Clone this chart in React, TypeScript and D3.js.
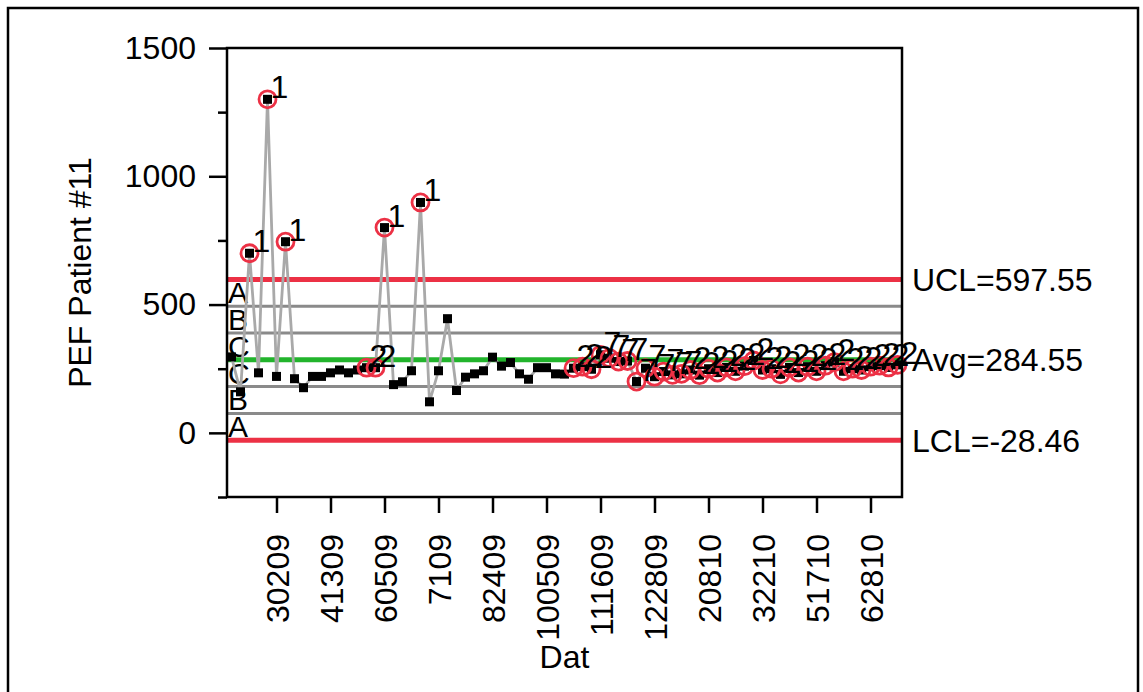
import React, { useEffect, useRef } from 'react';
import * as d3 from 'd3';

// PEF readings, one per visit
const pefValues = [
  296, 160, 700, 234, 1300, 220, 745, 211, 176, 220,
  220, 234, 245, 234, 245, 254, 254, 800, 188, 199,
  242, 898, 121, 242, 445, 165, 217, 230, 242, 295,
  260, 274, 230, 209, 254, 254, 230, 229, 252, 258,
  248, 304, 291, 278, 280, 200, 252, 219, 239, 226,
  230, 245, 225, 250, 235, 255, 240, 260, 282, 245,
  250, 228, 255, 235, 258, 240, 262, 276, 240, 250,
  245, 258, 262, 255, 265,
];

const dateTickIndex = [6, 12, 18, 24, 30, 36, 42, 48, 54, 60, 66, 72];
const dateTickLabels = ['30209', '41309', '60509', '7109', '82409', '100509', '111609', '122809', '20810', '32210', '51710', '62810'];

const yMajorTicks = [0, 500, 1000, 1500];
const yMinorTicks = [-250, 250, 750, 1250];

const UCL = 597.55;
const AVG = 284.55;
const LCL = -28.46;

const FONT = '"Liberation Sans", Arial, Helvetica, sans-serif';

// which test a point fails (1: beyond limits, 2: 9 on one side, 7: 15 inside zone C)
function testsFailed(vals: number[], sigma: number) {
  return vals.map((v, i) => {
    const out: number[] = [];
    if (v > UCL || v < LCL) out.push(1);
    if (i >= 8) {
      const run = vals.slice(i - 8, i + 1);
      if (run.every(d => d > AVG) || run.every(d => d < AVG)) out.push(2);
    }
    if (i >= 14) {
      const run = vals.slice(i - 14, i + 1);
      if (run.every(d => Math.abs(d - AVG) < sigma)) out.push(7);
    }
    return out;
  });
}

const ControlChart = () => {
  const ref = useRef<SVGSVGElement>(null);

  useEffect(() => {
    const svg = d3.select(ref.current);
    svg.selectAll('*').remove();

    const left = 227, right = 902, top = 48, bottom = 497;
    const n = pefValues.length;

    const x = d3.scaleLinear().domain([0.5, n + 0.5]).range([left, right]);
    const y = d3.scaleLinear().domain([-250, 1500]).range([bottom, top]);

    const sigma = (UCL - AVG) / 3;
    const zoneLines = [AVG + 2 * sigma, AVG + sigma, AVG - sigma, AVG - 2 * sigma];

    // outer border
    svg.append('rect')
      .attr('x', 8).attr('y', 8)
      .attr('width', 1130).attr('height', 700)
      .attr('fill', 'none').attr('stroke', '#000').attr('stroke-width', 2.5);

    // zone lines
    svg.selectAll('.zone')
      .data(zoneLines)
      .enter().append('line')
      .attr('x1', left).attr('x2', right)
      .attr('y1', d => y(d)).attr('y2', d => y(d))
      .attr('stroke', '#8a8a8a').attr('stroke-width', 3);

    // control limits and centre line
    svg.selectAll('.limit')
      .data([UCL, LCL])
      .enter().append('line')
      .attr('x1', left).attr('x2', right)
      .attr('y1', d => y(d)).attr('y2', d => y(d))
      .attr('stroke', '#ec3145').attr('stroke-width', 5);

    svg.append('line')
      .attr('x1', left).attr('x2', right)
      .attr('y1', y(AVG)).attr('y2', y(AVG))
      .attr('stroke', '#22b42c').attr('stroke-width', 5);

    // zone letters
    const zoneText = [
      { t: 'A', v: AVG + 2 * sigma },
      { t: 'B', v: AVG + sigma },
      { t: 'C', v: AVG },
      { t: 'C', v: AVG - sigma },
      { t: 'B', v: AVG - 2 * sigma },
      { t: 'A', v: LCL },
    ];
    svg.selectAll('.zl')
      .data(zoneText)
      .enter().append('text')
      .attr('x', left + 1)
      .attr('y', d => y(d.v) - 3)
      .attr('font-family', FONT).attr('font-size', 30)
      .text(d => d.t);

    // data line
    const line = d3.line<number>()
      .x((d, i) => x(i + 1))
      .y(d => y(d));
    svg.append('path')
      .datum(pefValues)
      .attr('d', line)
      .attr('fill', 'none')
      .attr('stroke', '#a9a9a9').attr('stroke-width', 2.8);

    svg.selectAll('.pt')
      .data(pefValues)
      .enter().append('rect')
      .attr('x', (d, i) => x(i + 1) - 4.5)
      .attr('y', d => y(d) - 4.5)
      .attr('width', 9).attr('height', 9)
      .attr('fill', '#000');

    const fails = testsFailed(pefValues, sigma);
    const flagged = pefValues
      .map((v, i) => ({ v, i, tests: fails[i] }))
      .filter(d => d.tests.length > 0);

    svg.selectAll('.flag')
      .data(flagged)
      .enter().append('circle')
      .attr('cx', d => x(d.i + 1))
      .attr('cy', d => y(d.v))
      .attr('r', 8.5)
      .attr('fill', 'none')
      .attr('stroke', '#ec3145').attr('stroke-width', 2.8);

    svg.selectAll('.flagtxt')
      .data(flagged)
      .enter().append('text')
      .attr('x', d => x(d.i + 1) + 3)
      .attr('y', d => y(d.v) - 1)
      .attr('font-family', FONT).attr('font-size', 32)
      .text(d => d.tests[0]);

    // plot frame
    svg.append('rect')
      .attr('x', left).attr('y', top)
      .attr('width', right - left).attr('height', bottom - top)
      .attr('fill', 'none').attr('stroke', '#000').attr('stroke-width', 2.5);

    // y axis
    const yAxis = svg.append('g')
      .attr('transform', `translate(${left},0)`)
      .call(d3.axisLeft(y).tickValues(yMajorTicks).tickSize(18).tickPadding(13).tickFormat(d3.format('d')));
    yAxis.select('.domain').remove();
    yAxis.selectAll('line').attr('stroke-width', 2.5);
    yAxis.selectAll('text').attr('font-family', FONT).attr('font-size', 32).attr('fill', '#000');

    const yMinor = svg.append('g')
      .attr('transform', `translate(${left},0)`)
      .call(d3.axisLeft(y).tickValues(yMinorTicks).tickSize(9).tickFormat(() => ''));
    yMinor.select('.domain').remove();
    yMinor.selectAll('line').attr('stroke-width', 2.5);

    // x axis
    const xAxis = svg.append('g')
      .attr('transform', `translate(0,${bottom})`)
      .call(d3.axisBottom(x).tickValues(dateTickIndex).tickSize(16)
        .tickFormat((d, i) => dateTickLabels[i]));
    xAxis.select('.domain').remove();
    xAxis.selectAll('line').attr('stroke-width', 2.5);
    xAxis.selectAll('text')
      .attr('font-family', FONT).attr('font-size', 32).attr('fill', '#000')
      .attr('text-anchor', 'end')
      .attr('transform', 'rotate(-90)')
      .attr('x', -37).attr('y', 0).attr('dy', '0.36em');

    // limit labels
    const limitLabels = [
      { t: `UCL=${UCL}`, v: UCL },
      { t: `Avg=${AVG}`, v: AVG },
      { t: `LCL=${LCL}`, v: LCL },
    ];
    svg.selectAll('.lim')
      .data(limitLabels)
      .enter().append('text')
      .attr('x', right + 10)
      .attr('y', d => y(d.v))
      .attr('dy', '0.36em')
      .attr('font-family', FONT).attr('font-size', 32)
      .text(d => d.t);

    // axis titles
    svg.append('text')
      .attr('transform', `translate(91,${(top + bottom) / 2}) rotate(-90)`)
      .attr('text-anchor', 'middle')
      .attr('font-family', FONT).attr('font-size', 32)
      .text('PEF Patient #11');

    svg.append('text')
      .attr('x', (left + right) / 2)
      .attr('y', 668)
      .attr('text-anchor', 'middle')
      .attr('font-family', FONT).attr('font-size', 32)
      .text('Dat');
  }, []);

  return <svg ref={ref} width={1143} height={692} style={{ position: 'absolute', left: 0, top: 0, background: '#fff' }} />;
};

export default function App() {
  return (
    <div>
      <ControlChart />
    </div>
  );
}
